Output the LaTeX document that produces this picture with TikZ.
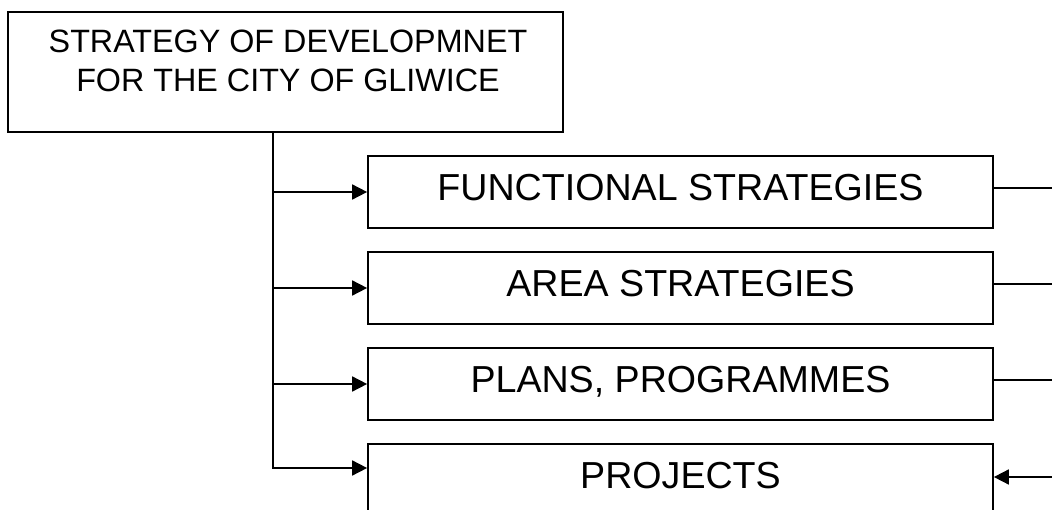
\documentclass[tikz,border=0pt]{standalone}
\usepackage{fontspec}
\setmainfont{Liberation Sans}
\usetikzlibrary{arrows.meta}

\begin{document}
\begin{tikzpicture}[x=1pt, y=-1pt, line width=1.7pt,
  box/.style={draw, inner sep=0pt, minimum width=625pt, minimum height=72pt,
    font=\fontsize{37.6}{44}\selectfont, text height=26pt, text depth=9pt},
  tip/.style={-{Triangle[length=15pt,width=15pt]}}]
  \useasboundingbox (0,0) rectangle (1052,510);
  % Main strategy
  \node[draw, inner sep=0pt, minimum width=555pt, minimum height=120pt] (strat) at (285.5,72) {};
  \node[align=center, inner sep=0pt, anchor=north, font=\fontsize{32.3}{39}\selectfont] (strattext) at (288,29)
    {STRATEGY OF DEVELOPMNET\\FOR THE CITY OF GLIWICE};
  % Lower level documents
  \node[box] (func) at (680.5,192) {FUNCTIONAL STRATEGIES};
  \node[box] (area) at (680.5,288) {AREA STRATEGIES};
  \node[box] (plan) at (680.5,384) {PLANS, PROGRAMMES};
  \node[box] (proj) at (680.5,480) {PROJECTS};
  % Trunk and branches
  \coordinate (trunk) at ([xshift=-12.5pt]strat.south);
  \draw[tip] (trunk) |- ([yshift=12pt]proj.west);
  \foreach \b in {func,area,plan}
    \draw[tip] (trunk|-\b.west) -- (\b.west);
  % Right side links
  \coordinate (rim) at (1052,0);
  \foreach \b in {func,area,plan}{
    \coordinate (\b r) at ([yshift=4pt]\b.east);
    \draw (\b r) -- (\b r-|rim);
  }
  \coordinate (projr) at ([yshift=3pt]proj.east);
  \draw[tip] (projr-|rim) -- (projr);
\end{tikzpicture}
\end{document}
